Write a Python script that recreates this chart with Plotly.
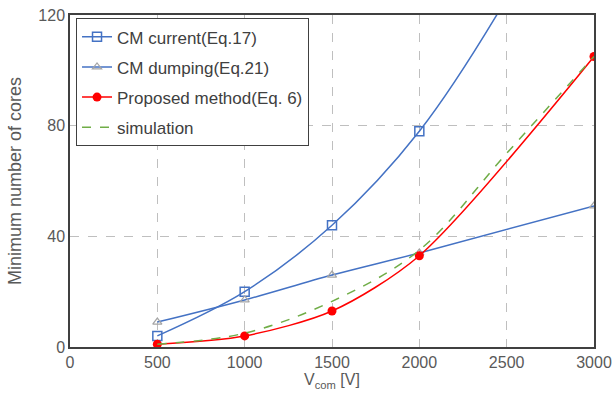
import plotly.graph_objects as go

x_pts = [500, 1000, 1500, 2000, 2500, 3000]
cm_current = [4, 20, 44, 78, 126, 185]
x_dump = [500, 1000, 1500, 2000, 3000]
cm_dumping = [9, 17, 26, 34, 51]
x_prop = [500, 1000, 1500, 2000, 3000]
proposed = [1, 4, 13, 33, 105]
x_sim = [500, 1000, 1500, 2000, 2500, 3000]
simulation = [1, 5, 16.5, 35, 70, 105]

BLUE = "#4472C4"
fig = go.Figure()
fig.add_trace(go.Scatter(x=x_pts, y=cm_current, name="CM current(Eq.17)", mode="lines+markers",
                         legendgroup="a",
                         line=dict(color=BLUE, width=1.5, shape="spline"),
                         marker=dict(symbol="square-open", size=9, color=BLUE, line=dict(width=1.5))))
fig.add_trace(go.Scatter(x=x_dump, y=cm_dumping, name="CM dumping(Eq.21)", mode="lines+markers",
                         legendgroup="b",
                         line=dict(color=BLUE, width=1.5, shape="spline"),
                         marker=dict(symbol="triangle-up-open", size=8, color="#A5A5A5", line=dict(width=1.2))))
fig.add_trace(go.Scatter(x=x_prop, y=proposed, name="Proposed method(Eq. 6)", mode="lines+markers",
                         legendgroup="c",
                         line=dict(color="#FF0000", width=1.5, shape="spline", smoothing=0.8),
                         marker=dict(symbol="circle", size=9, color="#FF0000")))
fig.add_trace(go.Scatter(x=x_sim, y=simulation, name="simulation", mode="lines",
                         legendgroup="d",
                         line=dict(color="#70AD47", width=1.5, dash="dash", shape="spline")))

axis_common = dict(showgrid=True, gridcolor="#BFBFBF", griddash="dash", gridwidth=1,
                   showline=True, linecolor="#404040", linewidth=1.5, mirror=True,
                   zeroline=False, ticks="", automargin=False,
                   tickfont=dict(size=16, color="#595959"))
fig.update_xaxes(range=[0, 3000], dtick=500, tick0=0,
                 title=dict(text="V<sub>com</sub> [V]", font=dict(size=16, color="#595959"), standoff=4),
                 **axis_common)
fig.update_yaxes(range=[0, 120], dtick=40, tick0=0,
                 title=dict(text="Minimum number of cores", font=dict(size=18, color="#595959"), standoff=12),
                 **axis_common)

fig.update_layout(
    width=614, height=402,
    margin=dict(l=70, r=20, t=15, b=55),
    plot_bgcolor="white", paper_bgcolor="white",
    font=dict(family="Liberation Sans, Arial, sans-serif", color="#595959"),
    legend=dict(x=0.0115, y=0.99, xanchor="left", yanchor="top",
                bgcolor="white", bordercolor="#404040", borderwidth=1,
                font=dict(size=17, color="#404040"), tracegroupgap=5),
)
fig.write_html("out.html", post_script="document.body.style.margin='0';",
               config={"displayModeBar": False})
